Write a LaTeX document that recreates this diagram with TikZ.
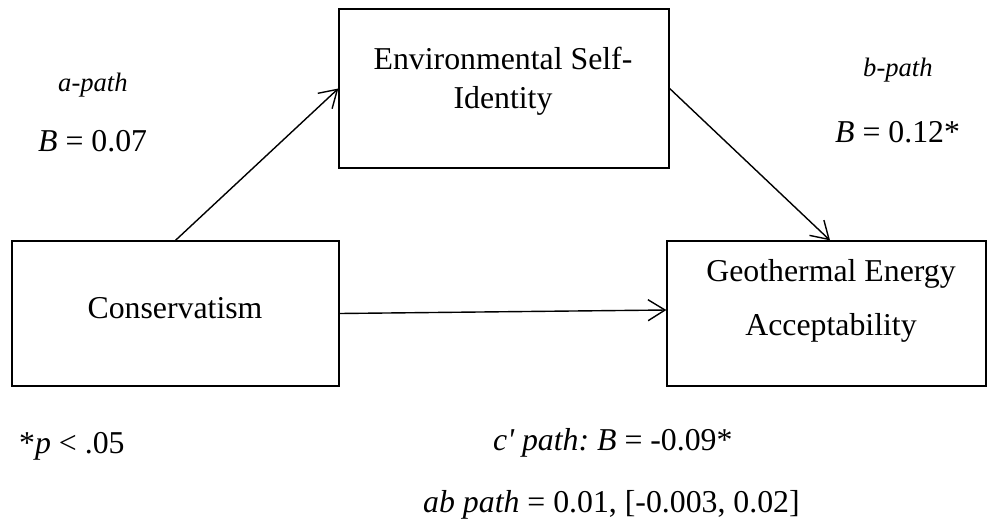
\documentclass[tikz,border=0pt]{standalone}
\usepackage{fontspec}
\setmainfont{Liberation Serif}
\usetikzlibrary{arrows.meta}
\frenchspacing
\tikzset{
  box/.style={draw, line width=1.3pt, inner sep=0pt},
  lbl/.style={inner sep=0pt, font=\fontsize{31.8}{38}\selectfont},
  small/.style={inner sep=0pt, font=\fontsize{26.6}{32}\selectfont\itshape},
  arr/.style={line width=1.4pt, -{Straight Barb[length=17pt,width=21pt,line width=1.4pt]}}
}
\begin{document}
\begin{tikzpicture}[x=1pt,y=-1pt]
\useasboundingbox (0,0) rectangle (987,527);
% boxes
\node[box, minimum width=327pt, minimum height=145pt] (cons) at (175.5,313.5) {};
\node[box, minimum width=330pt, minimum height=159pt] (env) at (504,88.5) {};
\node[box, minimum width=319pt, minimum height=145pt] (geo) at (826.5,313.5) {};
% box texts
\node[lbl, anchor=base] (envt1) at (503,70) {Environmental Self-};
\node[lbl, anchor=base] (envt2) at (503,108) {Identity};
\node[lbl, anchor=base] (geot1) at (831,281) {Geothermal Energy};
\node[lbl, anchor=base] (geot2) at (831,335) {Acceptability};
\node[lbl, anchor=base] (const) at (175,318) {Conservatism};
% path labels
\node[small, anchor=base west] (apath) at (58,91) {a-path};
\node[lbl, anchor=base west] (aval) at (38,151) {\textit{B} = 0.07};
\node[small, anchor=base west] (bpath) at (863,77) {b-path};
\node[lbl, anchor=base west] (bval) at (835,142) {\textit{B} = 0.12*};
\node[lbl, anchor=base west] (sig) at (19,453) {*\textit{p} < .05};
\node[lbl, anchor=base west] (cpath) at (493,450) {\frenchspacing{\itshape c\textquotesingle{} path: B} = -0.09*};
\node[lbl, anchor=base west] (abpath) at (423,512) {{\itshape ab path} = 0.01, [-0.003, 0.02]};
% connectors
\draw[arr] (cons.north) -- (env.west);
\draw[arr] (env.east) -- ([xshift=3.5pt]geo.north);
\draw[arr] (cons.east) -- ([yshift=3.5pt]geo.west);
\end{tikzpicture}
\end{document}
